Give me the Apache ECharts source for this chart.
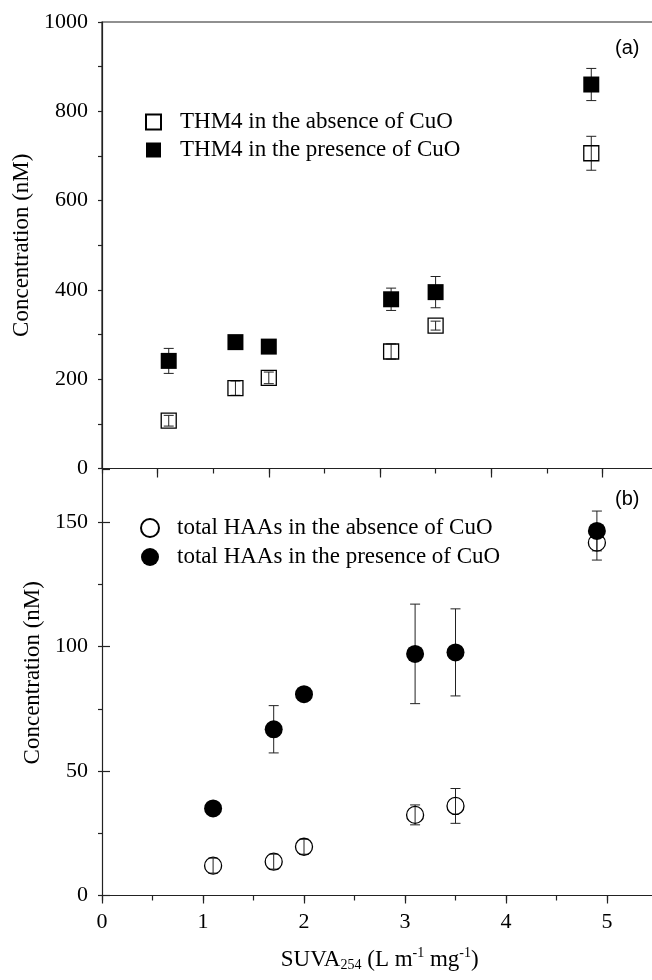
<!DOCTYPE html>
<html>
<head>
<meta charset="utf-8">
<script src="https://cdn.jsdelivr.net/npm/echarts@6/dist/echarts.min.js"></script>
<style>
  html, body { margin: 0; padding: 0; background: #fff; }
  #chart { width: 652px; height: 980px; }
</style>
</head>
<body>
<div id="chart"></div>
<script>
// SUVA254 values of the samples
const suva = [1.1, 1.7, 2.0, 3.1, 3.5, 4.9];

// panel (a): THM4 (nM)
const thmAbsent = [107, 180, 203, 262, 320, 706];
const thmAbsentErr = [12, 16, 13, 17, 10, 38];
const thmPresent = [241, 283, 273, 379, 395, 860];
const thmPresentErr = [28, 10, 10, 25, 35, 36];

// panel (b): total HAAs (nM)
const haaAbsent = [12.0, 13.6, 19.6, 32.4, 36.0, 141.8];
const haaAbsentErr = [3, 3, 3, 4, 7, 7];
const haaPresent = [35.0, 66.8, 80.9, 97.1, 97.7, 146.5];
const haaPresentErr = [1.5, 9.5, 2, 20, 17.5, 8];

const topLongTicks = [1, 2, 3, 4, 5];

const serif = 'Liberation Serif';
const ink = '#222';

const chart = echarts.init(document.getElementById('chart'), null, { renderer: 'canvas' });

const pts = (vals) => suva.map((x, i) => [x, vals[i]]);
const errPts = (vals, errs) => suva.map((x, i) => [x, vals[i], errs[i]]);

// error bars, drawn through the axes' own coord()
function errorBars(xi, yi, vals, errs) {
  return {
    type: 'custom',
    xAxisIndex: xi,
    yAxisIndex: yi,
    z: 1,
    silent: true,
    encode: { x: 0, y: 1 },
    data: errPts(vals, errs),
    renderItem: (params, api) => {
      const x = api.value(0), y = api.value(1), e = api.value(2);
      const hi = api.coord([x, y + e]);
      const lo = api.coord([x, y - e]);
      const w = 5;
      const style = { stroke: ink, lineWidth: 1 };
      return {
        type: 'group',
        children: [
          { type: 'line', shape: { x1: hi[0], y1: hi[1], x2: lo[0], y2: lo[1] }, style },
          { type: 'line', shape: { x1: hi[0] - w, y1: hi[1], x2: hi[0] + w, y2: hi[1] }, style },
          { type: 'line', shape: { x1: lo[0] - w, y1: lo[1], x2: lo[0] + w, y2: lo[1] }, style }
        ]
      };
    }
  };
}

const axisLine = { show: true, onZero: false, lineStyle: { color: ink, width: 1.2 } };
const tickStyle = { color: ink, width: 1.2 };
const labelStyle = { fontFamily: serif, fontSize: 22, color: '#000', margin: 14 };

const legendText = {
  fontFamily: serif, fontSize: 23, color: '#000', lineHeight: 24, padding: [0, 0, 0, 14]
};

const option = {
  animation: false,
  grid: [
    // frame runs past the right edge of the picture, as in the original
    { left: 102, width: 556, top: 22, height: 446.5, outerBoundsMode: 'none',
      show: true, borderColor: ink, borderWidth: 1.2 },
    { left: 102, width: 555.5, top: 469, height: 426.5, outerBoundsMode: 'none' }
  ],
  xAxis: [
    {
      gridIndex: 0, type: 'value', min: 0.5, max: 5.5, interval: 0.5, position: 'bottom',
      axisLine, axisTick: { length: 5, lineStyle: tickStyle },
      axisLabel: { show: false }, splitLine: { show: false }
    },
    {
      gridIndex: 0, type: 'value', min: 0.5, max: 5.5, position: 'bottom',
      axisLine: { show: false },
      axisTick: { length: 9, customValues: topLongTicks, lineStyle: tickStyle },
      axisLabel: { show: false }, splitLine: { show: false }
    },
    {
      gridIndex: 1, type: 'value', min: 0, max: 5.5, interval: 0.5, position: 'bottom',
      axisLine, axisTick: { length: 5, lineStyle: tickStyle },
      axisLabel: Object.assign({}, labelStyle, {
        margin: 16,
        showMaxLabel: false,
        formatter: (v) => (Math.abs(v % 1) < 1e-9 ? String(v) : '')
      }),
      splitLine: { show: false },
      name: '{n|SUVA}{s|254}{n| (L m}{p|-1}{n| mg}{p|-1}{n|)}',
      nameLocation: 'middle',
      nameGap: 51,
      nameTextStyle: {
        rich: {
          n: { fontFamily: serif, fontSize: 23, color: '#000', lineHeight: 26 },
          s: { fontFamily: serif, fontSize: 14, color: '#000', lineHeight: 8, verticalAlign: 'bottom' },
          p: { fontFamily: serif, fontSize: 14, color: '#000', lineHeight: 16, verticalAlign: 'top' }
        }
      }
    },
    {
      gridIndex: 1, type: 'value', min: 0, max: 5.5, interval: 1, position: 'bottom',
      axisLine: { show: false },
      axisTick: { length: 8, lineStyle: tickStyle },
      axisLabel: { show: false }, splitLine: { show: false }
    }
  ],
  yAxis: [
    {
      gridIndex: 0, type: 'value', min: 0, max: 1000, interval: 100,
      axisLine, axisTick: { length: 4, lineStyle: tickStyle },
      axisLabel: Object.assign({}, labelStyle, {
        formatter: (v) => (v % 200 === 0 ? String(v) : '')
      }),
      splitLine: { show: false },
      name: 'Concentration (nM)',
      nameLocation: 'middle',
      nameGap: 59,
      nameTextStyle: { fontFamily: serif, fontSize: 23, color: '#000' }
    },
    {
      gridIndex: 0, type: 'value', min: 0, max: 1000, interval: 200,
      axisLine: { show: false },
      axisTick: { length: 8, lineStyle: tickStyle },
      axisLabel: { show: false }, splitLine: { show: false }
    },
    {
      gridIndex: 1, type: 'value', min: 0, max: 171.4, interval: 25,
      axisLine, axisTick: { length: 4, lineStyle: tickStyle },
      axisLabel: Object.assign({}, labelStyle, {
        showMaxLabel: false,
        formatter: (v) => (v % 50 === 0 ? String(v) : '')
      }),
      splitLine: { show: false },
      name: 'Concentration (nM)',
      nameLocation: 'middle',
      nameGap: 49,
      nameTextStyle: { fontFamily: serif, fontSize: 23, color: '#000', padding: [0, 0, 0, 19] }
    },
    {
      gridIndex: 1, type: 'value', min: 0, max: 171.4, interval: 50,
      axisLine: { show: false },
      axisTick: { length: 8, lineStyle: tickStyle },
      axisLabel: { show: false }, splitLine: { show: false }
    }
  ],
  legend: [
    {
      orient: 'vertical', left: 140, top: 105, itemWidth: 15, itemHeight: 15, itemGap: 4,
      data: ['THM4 in the absence of CuO', 'THM4 in the presence of CuO'],
      textStyle: legendText
    },
    {
      orient: 'vertical', left: 135, top: 511, itemWidth: 18, itemHeight: 18, itemGap: 5,
      data: ['total HAAs in the absence of CuO', 'total HAAs in the presence of CuO'],
      textStyle: Object.assign({}, legendText, { padding: [0, 0, 0, 13] })
    }
  ],
  graphic: [
    { type: 'text', left: 615, top: 38, style: { text: '(a)', font: '20px "Liberation Sans"', fill: '#000' } },
    { type: 'text', left: 615, top: 489, style: { text: '(b)', font: '20px "Liberation Sans"', fill: '#000' } }
  ],
  series: [
    errorBars(0, 0, thmAbsent, thmAbsentErr),
    errorBars(0, 0, thmPresent, thmPresentErr),
    errorBars(2, 2, haaAbsent, haaAbsentErr),
    errorBars(2, 2, haaPresent, haaPresentErr),
    {
      name: 'THM4 in the absence of CuO', type: 'scatter', xAxisIndex: 0, yAxisIndex: 0, z: 2,
      symbol: 'rect', symbolSize: 15, data: pts(thmAbsent),
      itemStyle: { color: 'rgba(0,0,0,0)', borderColor: '#000', borderWidth: 1.3, opacity: 1 }
    },
    {
      name: 'THM4 in the presence of CuO', type: 'scatter', xAxisIndex: 0, yAxisIndex: 0, z: 3,
      symbol: 'rect', symbolSize: 16, data: pts(thmPresent),
      itemStyle: { color: '#000', opacity: 1 }
    },
    {
      name: 'total HAAs in the absence of CuO', type: 'scatter', xAxisIndex: 2, yAxisIndex: 2, z: 2,
      symbol: 'circle', symbolSize: 17, data: pts(haaAbsent),
      itemStyle: { color: 'rgba(0,0,0,0)', borderColor: '#000', borderWidth: 1.3, opacity: 1 }
    },
    {
      name: 'total HAAs in the presence of CuO', type: 'scatter', xAxisIndex: 2, yAxisIndex: 2, z: 3,
      symbol: 'circle', symbolSize: 18, data: pts(haaPresent),
      itemStyle: { color: '#000', opacity: 1 }
    }
  ]
};

chart.setOption(option);
window.addEventListener('resize', () => chart.resize());
</script>
</body>
</html>
